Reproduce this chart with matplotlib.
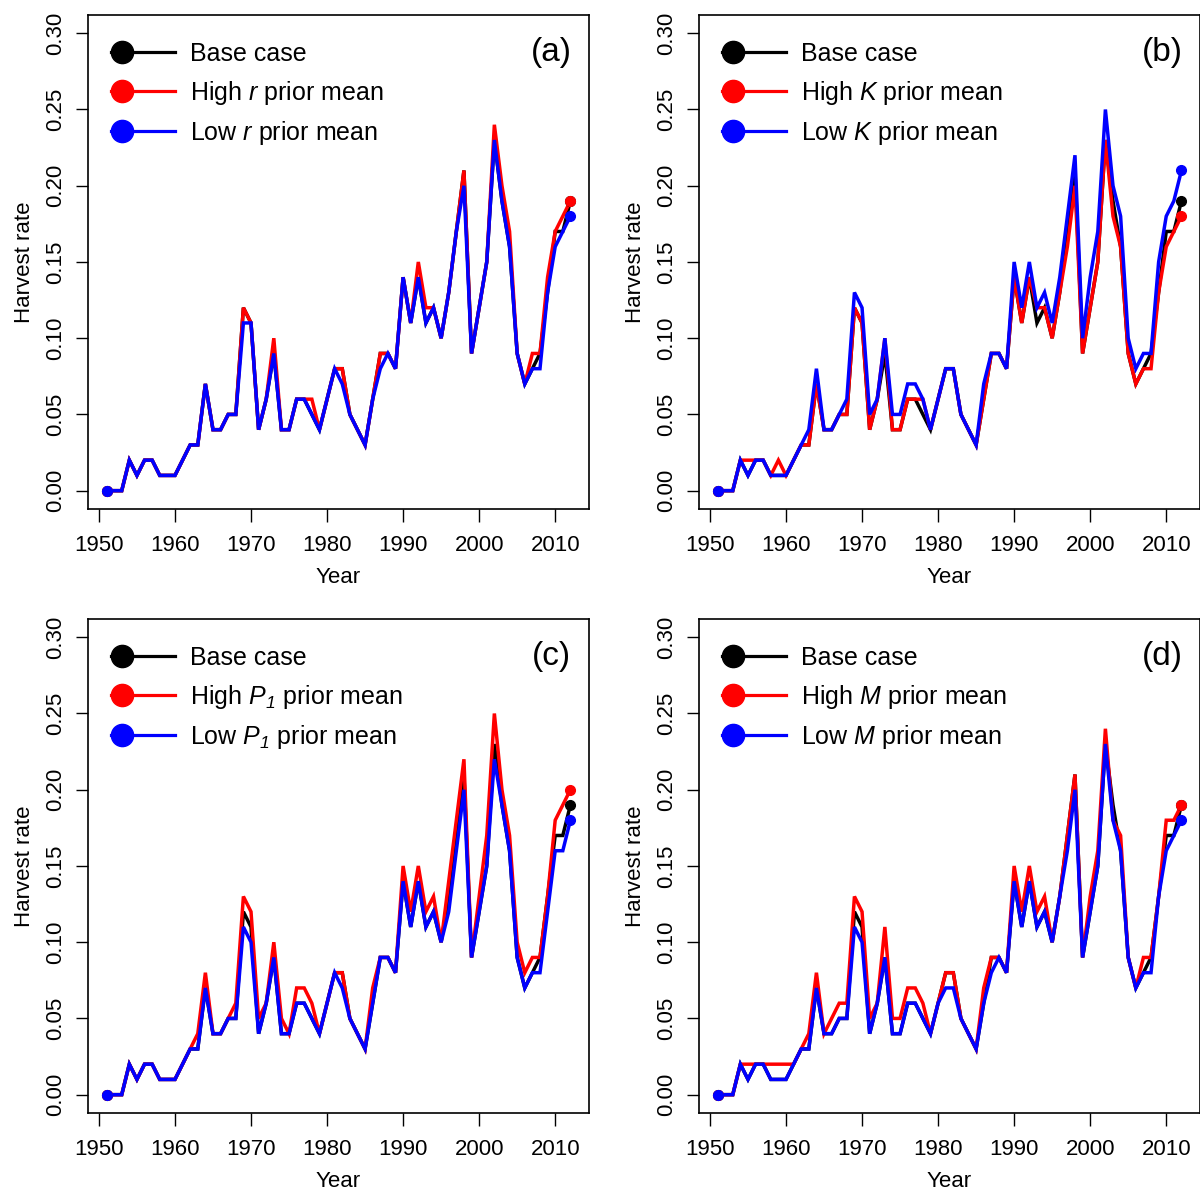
import numpy as np
import matplotlib.pyplot as plt
from matplotlib.lines import Line2D
from matplotlib.legend_handler import HandlerLine2D

plt.rcParams['font.family'] = ['Liberation Sans', 'DejaVu Sans']
plt.rcParams['mathtext.fontset'] = 'custom'
plt.rcParams['mathtext.rm'] = 'Liberation Sans:italic'
plt.rcParams['mathtext.it'] = 'Liberation Sans:italic'

years = np.arange(1951, 2013)

# base case harvest rate (shared by all panels)
base = [0, 0, 0, .02, .01, .02, .02, .01, .01, .01,
        .02, .03, .03, .07, .04, .04, .05, .05, .12, .11,
        .04, .06, .09, .04, .04, .06, .06, .05, .04, .06,
        .08, .08, .05, .04, .03, .06, .09, .09, .08, .14,
        .11, .14, .11, .12, .10, .13, .17, .21, .09, .12,
        .15, .23, .19, .16, .09, .07, .08, .09, .13, .17,
        .17, .19]

high_r = [0, 0, 0, .02, .01, .02, .02, .01, .01, .01,
          .02, .03, .03, .07, .04, .04, .05, .05, .12, .11,
          .04, .06, .10, .04, .04, .06, .06, .06, .04, .06,
          .08, .08, .05, .04, .03, .06, .09, .09, .08, .14,
          .11, .15, .12, .12, .10, .13, .17, .21, .09, .12,
          .15, .24, .20, .17, .09, .07, .09, .09, .14, .17,
          .18, .19]
low_r = [0, 0, 0, .02, .01, .02, .02, .01, .01, .01,
         .02, .03, .03, .07, .04, .04, .05, .05, .11, .11,
         .04, .06, .09, .04, .04, .06, .06, .05, .04, .06,
         .08, .07, .05, .04, .03, .06, .08, .09, .08, .14,
         .11, .14, .11, .12, .10, .13, .17, .20, .09, .12,
         .15, .23, .19, .16, .09, .07, .08, .08, .13, .16,
         .17, .18]

high_K = [0, 0, 0, .02, .02, .02, .02, .01, .02, .01,
          .02, .03, .03, .07, .04, .04, .05, .05, .12, .11,
          .04, .06, .10, .04, .04, .06, .06, .06, .04, .06,
          .08, .08, .05, .04, .03, .06, .09, .09, .08, .14,
          .11, .14, .12, .12, .10, .13, .16, .20, .09, .12,
          .15, .23, .18, .16, .09, .07, .08, .08, .13, .16,
          .17, .18]
low_K = [0, 0, 0, .02, .01, .02, .02, .01, .01, .01,
         .02, .03, .04, .08, .04, .04, .05, .06, .13, .12,
         .05, .06, .10, .05, .05, .07, .07, .06, .04, .06,
         .08, .08, .05, .04, .03, .07, .09, .09, .08, .15,
         .12, .15, .12, .13, .11, .14, .18, .22, .10, .14,
         .17, .25, .20, .18, .10, .08, .09, .09, .15, .18,
         .19, .21]

high_P1 = [0, 0, 0, .02, .01, .02, .02, .01, .01, .01,
           .02, .03, .04, .08, .04, .04, .05, .06, .13, .12,
           .05, .06, .10, .05, .04, .07, .07, .06, .04, .06,
           .08, .08, .05, .04, .03, .07, .09, .09, .08, .15,
           .12, .15, .12, .13, .10, .14, .18, .22, .09, .13,
           .17, .25, .20, .17, .10, .08, .09, .09, .13, .18,
           .19, .20]
low_P1 = [0, 0, 0, .02, .01, .02, .02, .01, .01, .01,
          .02, .03, .03, .07, .04, .04, .05, .05, .11, .10,
          .04, .06, .09, .04, .04, .06, .06, .05, .04, .06,
          .08, .07, .05, .04, .03, .06, .09, .09, .08, .14,
          .11, .14, .11, .12, .10, .12, .16, .20, .09, .12,
          .15, .22, .19, .16, .09, .07, .08, .08, .12, .16,
          .16, .18]

high_M = [0, 0, 0, .02, .02, .02, .02, .02, .02, .02,
          .02, .03, .04, .08, .04, .05, .06, .06, .13, .12,
          .05, .06, .11, .05, .05, .07, .07, .06, .04, .06,
          .08, .08, .05, .04, .03, .07, .09, .09, .08, .15,
          .12, .15, .12, .13, .10, .13, .17, .21, .09, .13,
          .16, .24, .18, .17, .09, .07, .09, .09, .13, .18,
          .18, .19]
low_M = [0, 0, 0, .02, .01, .02, .02, .01, .01, .01,
         .02, .03, .03, .07, .04, .04, .05, .05, .11, .10,
         .04, .06, .09, .04, .04, .06, .06, .05, .04, .06,
         .07, .07, .05, .04, .03, .06, .08, .09, .08, .14,
         .11, .14, .11, .12, .10, .13, .16, .20, .09, .12,
         .15, .23, .18, .16, .09, .07, .08, .08, .13, .16,
         .17, .18]

panels = [
    ('(a)', r'$r$', high_r, low_r),
    ('(b)', r'$K$', high_K, low_K),
    ('(c)', r'$P_1$', high_P1, low_P1),
    ('(d)', r'$M$', high_M, low_M),
]


class DotLine(HandlerLine2D):
    # line with a big dot at its left end, like the R legend
    def create_artists(self, legend, orig_handle, xdescent, ydescent,
                       width, height, fontsize, trans):
        y = height / 2 - ydescent
        c = orig_handle.get_color()
        line = Line2D([-xdescent, width - xdescent], [y, y], color=c, lw=2.3,
                      transform=trans)
        dot = Line2D([-xdescent + 8], [y], marker='o', ms=16, color=c,
                     linestyle='none', transform=trans)
        return [line, dot]


fig = plt.figure(figsize=(12, 11.97), dpi=100)
boxes = [
    (0.0733, 0.5748, 0.4175, 0.4127),
    (0.5825, 0.5748, 0.4175, 0.4127),
    (0.0733, 0.0702, 0.4175, 0.4127),
    (0.5825, 0.0702, 0.4175, 0.4127),
]

for box, (tag, sym, high, low) in zip(boxes, panels):
    ax = fig.add_axes(box)
    for vals, col in [(base, 'black'), (high, 'red'), (low, 'blue')]:
        ax.plot(years, vals, color=col, lw=2.5, solid_joinstyle='miter')
    for vals, col in [(base, 'black'), (high, 'red'), (low, 'blue')]:
        ax.plot([years[0], years[-1]], [vals[0], vals[-1]], 'o', color=col, ms=7)

    ax.set_xlim(1948.56, 2014.44)
    ax.set_ylim(-0.012, 0.312)
    ax.set_xticks(np.arange(1950, 2011, 10))
    ax.set_yticks(np.arange(0, 0.31, 0.05))
    ax.set_yticklabels(['%.2f' % v for v in np.arange(0, 0.31, 0.05)],
                       rotation=90, va='center')
    ax.tick_params(labelsize=16, length=9, width=1, direction='out')
    ax.tick_params(axis='x', pad=10)
    ax.tick_params(axis='y', pad=7)
    for s in ax.spines.values():
        s.set_linewidth(1.2)
    ax.set_xlabel('Year', fontsize=16, labelpad=8)
    ax.set_ylabel('Harvest rate', fontsize=16, labelpad=7)

    handles = [Line2D([], [], color=c) for c in ['black', 'red', 'blue']]
    labels = ['Base case', 'High ' + sym + ' prior mean', 'Low ' + sym + ' prior mean']
    ax.legend(handles, labels, loc='upper left', bbox_to_anchor=(0.046, 0.945),
              frameon=False, fontsize=18, handlelength=2.56, handletextpad=0.6,
              labelspacing=0.5, borderpad=0, borderaxespad=0,
              handler_map={Line2D: DotLine()})
    ax.text(0.965, 0.925, tag, transform=ax.transAxes, ha='right', va='center',
            fontsize=24)

fig.savefig('out.png', dpi=100)
